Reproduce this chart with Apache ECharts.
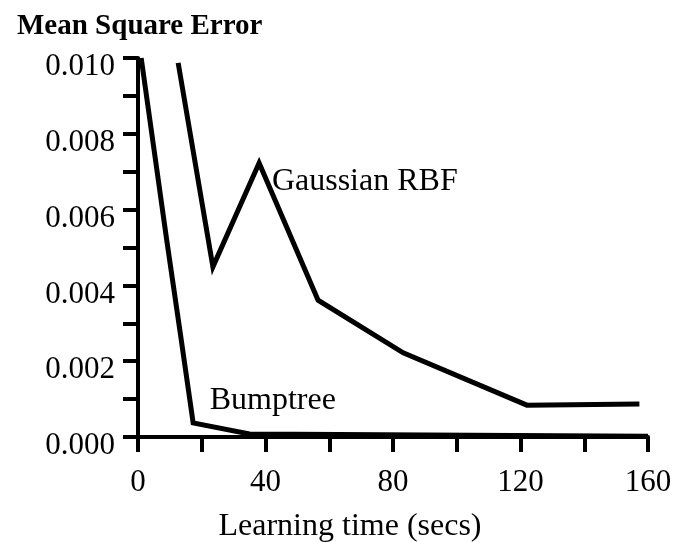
<!DOCTYPE html>
<html>
<head>
<meta charset="utf-8">
<script src="https://cdn.jsdelivr.net/npm/echarts@6/dist/echarts.min.js"></script>
<style>
  html, body { margin: 0; padding: 0; background: #fff; overflow: hidden; }
  #chart { width: 674px; height: 542px; }
</style>
</head>
<body>
<div id="chart"></div>
<script>
// learning time (secs) vs mean square error
var bumptreeX = [1, 9, 13.5, 17.3, 35, 160];
var bumptreeY = [0.0100, 0.0052, 0.0026, 0.00037, 0.00008, 0.00002];
var rbfX = [12.6, 23.5, 38, 56.5, 83.2, 122, 157.3];
var rbfY = [0.00987, 0.00449, 0.00723, 0.00361, 0.00222, 0.00084, 0.00087];
var xTicks = [0, 40, 80, 120, 160];
var yTicks = [0, 0.002, 0.004, 0.006, 0.008, 0.010];

function pairs(xs, ys) {
  var out = [];
  for (var i = 0; i < xs.length; i++) out.push([xs[i], ys[i]]);
  return out;
}

var font = "'Liberation Serif', 'DejaVu Serif', serif";
var black = "#000";

var myChart = echarts.init(document.getElementById("chart"), null, { renderer: "canvas" });
var option = {
  animation: false,
  backgroundColor: "#fff",
  title: {
    text: "Mean Square Error",
    left: 12,
    top: 7,
    textStyle: { fontFamily: font, fontSize: 29, fontWeight: "bold", color: black }
  },
  grid: { left: 138, right: 26, top: 58, bottom: 105, containLabel: false, outerBoundsMode: "none" },
  xAxis: {
    type: "value",
    min: xTicks[0],
    max: xTicks[xTicks.length - 1],
    interval: 40,
    name: "Learning time (secs)",
    nameLocation: "middle",
    nameGap: 74,
    nameTextStyle: { fontFamily: font, fontSize: 32, color: black, padding: [0, 86, 0, 0] },
    axisLine: { show: true, lineStyle: { color: black, width: 4 } },
    axisTick: { show: true, inside: false, length: 15, lineStyle: { color: black, width: 4 } },
    minorTick: { show: true, splitNumber: 2, length: 15, lineStyle: { color: black, width: 4 } },
    splitLine: { show: false },
    axisLabel: { margin: 30, fontFamily: font, fontSize: 31, color: black }
  },
  yAxis: {
    type: "value",
    min: yTicks[0],
    max: yTicks[yTicks.length - 1],
    interval: 0.002,
    axisLine: { show: true, lineStyle: { color: black, width: 4 } },
    axisTick: { show: true, inside: false, length: 15, lineStyle: { color: black, width: 4 } },
    minorTick: { show: true, splitNumber: 2, length: 15, lineStyle: { color: black, width: 4 } },
    splitLine: { show: false },
    axisLabel: {
      margin: 23, color: black,
      formatter: function (v) { return "{v|" + v.toFixed(3) + "}"; },
      rich: { v: { fontFamily: font, fontSize: 31, color: black, padding: [18, 0, 0, 0] } }
    }
  },
  series: [
    {
      name: "Bumptree",
      type: "line",
      data: pairs(bumptreeX, bumptreeY),
      showSymbol: false,
      lineStyle: { color: black, width: 5, join: "miter" },
      markPoint: {
        symbol: "circle", symbolSize: 0,
        label: { show: true, position: "right", distance: 0, fontFamily: font, fontSize: 32, color: black, formatter: "Bumptree" },
        data: [{ coord: [22.5, 0.00095] }]
      }
    },
    {
      name: "Gaussian RBF",
      type: "line",
      data: pairs(rbfX, rbfY),
      showSymbol: false,
      lineStyle: { color: black, width: 5, join: "miter" },
      markPoint: {
        symbol: "circle", symbolSize: 0,
        label: { show: true, position: "right", distance: 0, fontFamily: font, fontSize: 32, color: black, formatter: "Gaussian RBF" },
        data: [{ coord: [42, 0.00673] }]
      }
    }
  ]
};
myChart.setOption(option);
window.addEventListener("resize", function () { myChart.resize(); });
</script>
</body>
</html>
